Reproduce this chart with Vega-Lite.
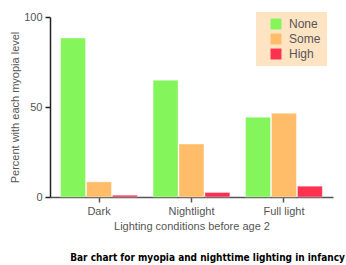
{
  "$schema": "https://vega.github.io/schema/vega-lite/v6.json",
  "width": 283,
  "height": 180,
  "autosize": {"type": "none"},
  "padding": {"left": 50, "top": 17, "right": 13, "bottom": 68},
  "background": "white",
  "title": {
    "text": "Bar chart for myopia and nighttime lighting in infancy",
    "orient": "bottom",
    "anchor": "middle",
    "dx": 16,
    "offset": 22,
    "font": "DejaVu Sans Condensed, Liberation Sans Narrow, sans-serif",
    "fontSize": 10,
    "fontWeight": "bold",
    "color": "#000000"
  },
  "data": {
    "values": [
      {"lighting": "Dark", "level": "None", "percent": 88.3},
      {"lighting": "Dark", "level": "Some", "percent": 8.4},
      {"lighting": "Dark", "level": "High", "percent": 1.0},
      {"lighting": "Nightlight", "level": "None", "percent": 64.9},
      {"lighting": "Nightlight", "level": "Some", "percent": 29.4},
      {"lighting": "Nightlight", "level": "High", "percent": 2.5},
      {"lighting": "Full light", "level": "None", "percent": 44.3},
      {"lighting": "Full light", "level": "Some", "percent": 46.5},
      {"lighting": "Full light", "level": "High", "percent": 6.0}
    ]
  },
  "mark": {"type": "bar", "stroke": "#ffffff", "strokeWidth": 0.6, "strokeOpacity": 0.6},
  "encoding": {
    "x": {
      "field": "lighting",
      "type": "nominal",
      "sort": ["Dark", "Nightlight", "Full light"],
      "scale": {"paddingInner": 0.17, "paddingOuter": 0.115},
      "axis": {
        "title": "Lighting conditions before age 2",
        "labelAngle": 0,
        "labelFont": "Liberation Sans",
        "labelFontSize": 11,
        "labelColor": "#555555",
        "labelPadding": 3,
        "titleFont": "Liberation Sans",
        "titleFontSize": 11,
        "titleFontWeight": "normal",
        "titleColor": "#555555",
        "titlePadding": 4,
        "domainColor": "#555555",
        "domainWidth": 1.5,
        "tickColor": "#555555",
        "tickSize": 5,
        "tickWidth": 1.5,
        "grid": false
      }
    },
    "xOffset": {
      "field": "level",
      "type": "nominal",
      "sort": ["None", "Some", "High"],
      "scale": {"paddingInner": 0.04, "paddingOuter": 0}
    },
    "y": {
      "field": "percent",
      "type": "quantitative",
      "scale": {"domain": [0, 100], "nice": false},
      "axis": {
        "title": "Percent with each myopia level",
        "values": [0, 50, 100],
        "labelFont": "Liberation Sans",
        "labelFontSize": 11,
        "labelColor": "#555555",
        "labelPadding": 3,
        "titleFont": "Liberation Sans",
        "titleFontSize": 11,
        "titleFontWeight": "normal",
        "titleColor": "#555555",
        "titlePadding": 3,
        "domainColor": "#222222",
        "domainWidth": 1.5,
        "tickColor": "#222222",
        "tickSize": 5,
        "tickWidth": 1.5,
        "grid": false
      }
    },
    "color": {
      "field": "level",
      "type": "nominal",
      "sort": ["None", "Some", "High"],
      "scale": {"domain": ["None", "Some", "High"], "range": ["#84f55b", "#ffbd69", "#ff3150"]},
      "legend": {
        "title": null,
        "orient": "none",
        "legendX": 206,
        "legendY": -5,
        "fillColor": "#ffe4c4",
        "padding": 6,
        "symbolType": "square",
        "symbolSize": 120,
        "symbolStrokeWidth": 0,
        "symbolOffset": 8,
        "labelFont": "Liberation Sans",
        "labelFontSize": 12,
        "labelColor": "#555555",
        "labelOffset": 7,
        "rowPadding": 3,
        "labelLimit": 100
      }
    }
  },
  "config": {"view": {"stroke": null}}
}
